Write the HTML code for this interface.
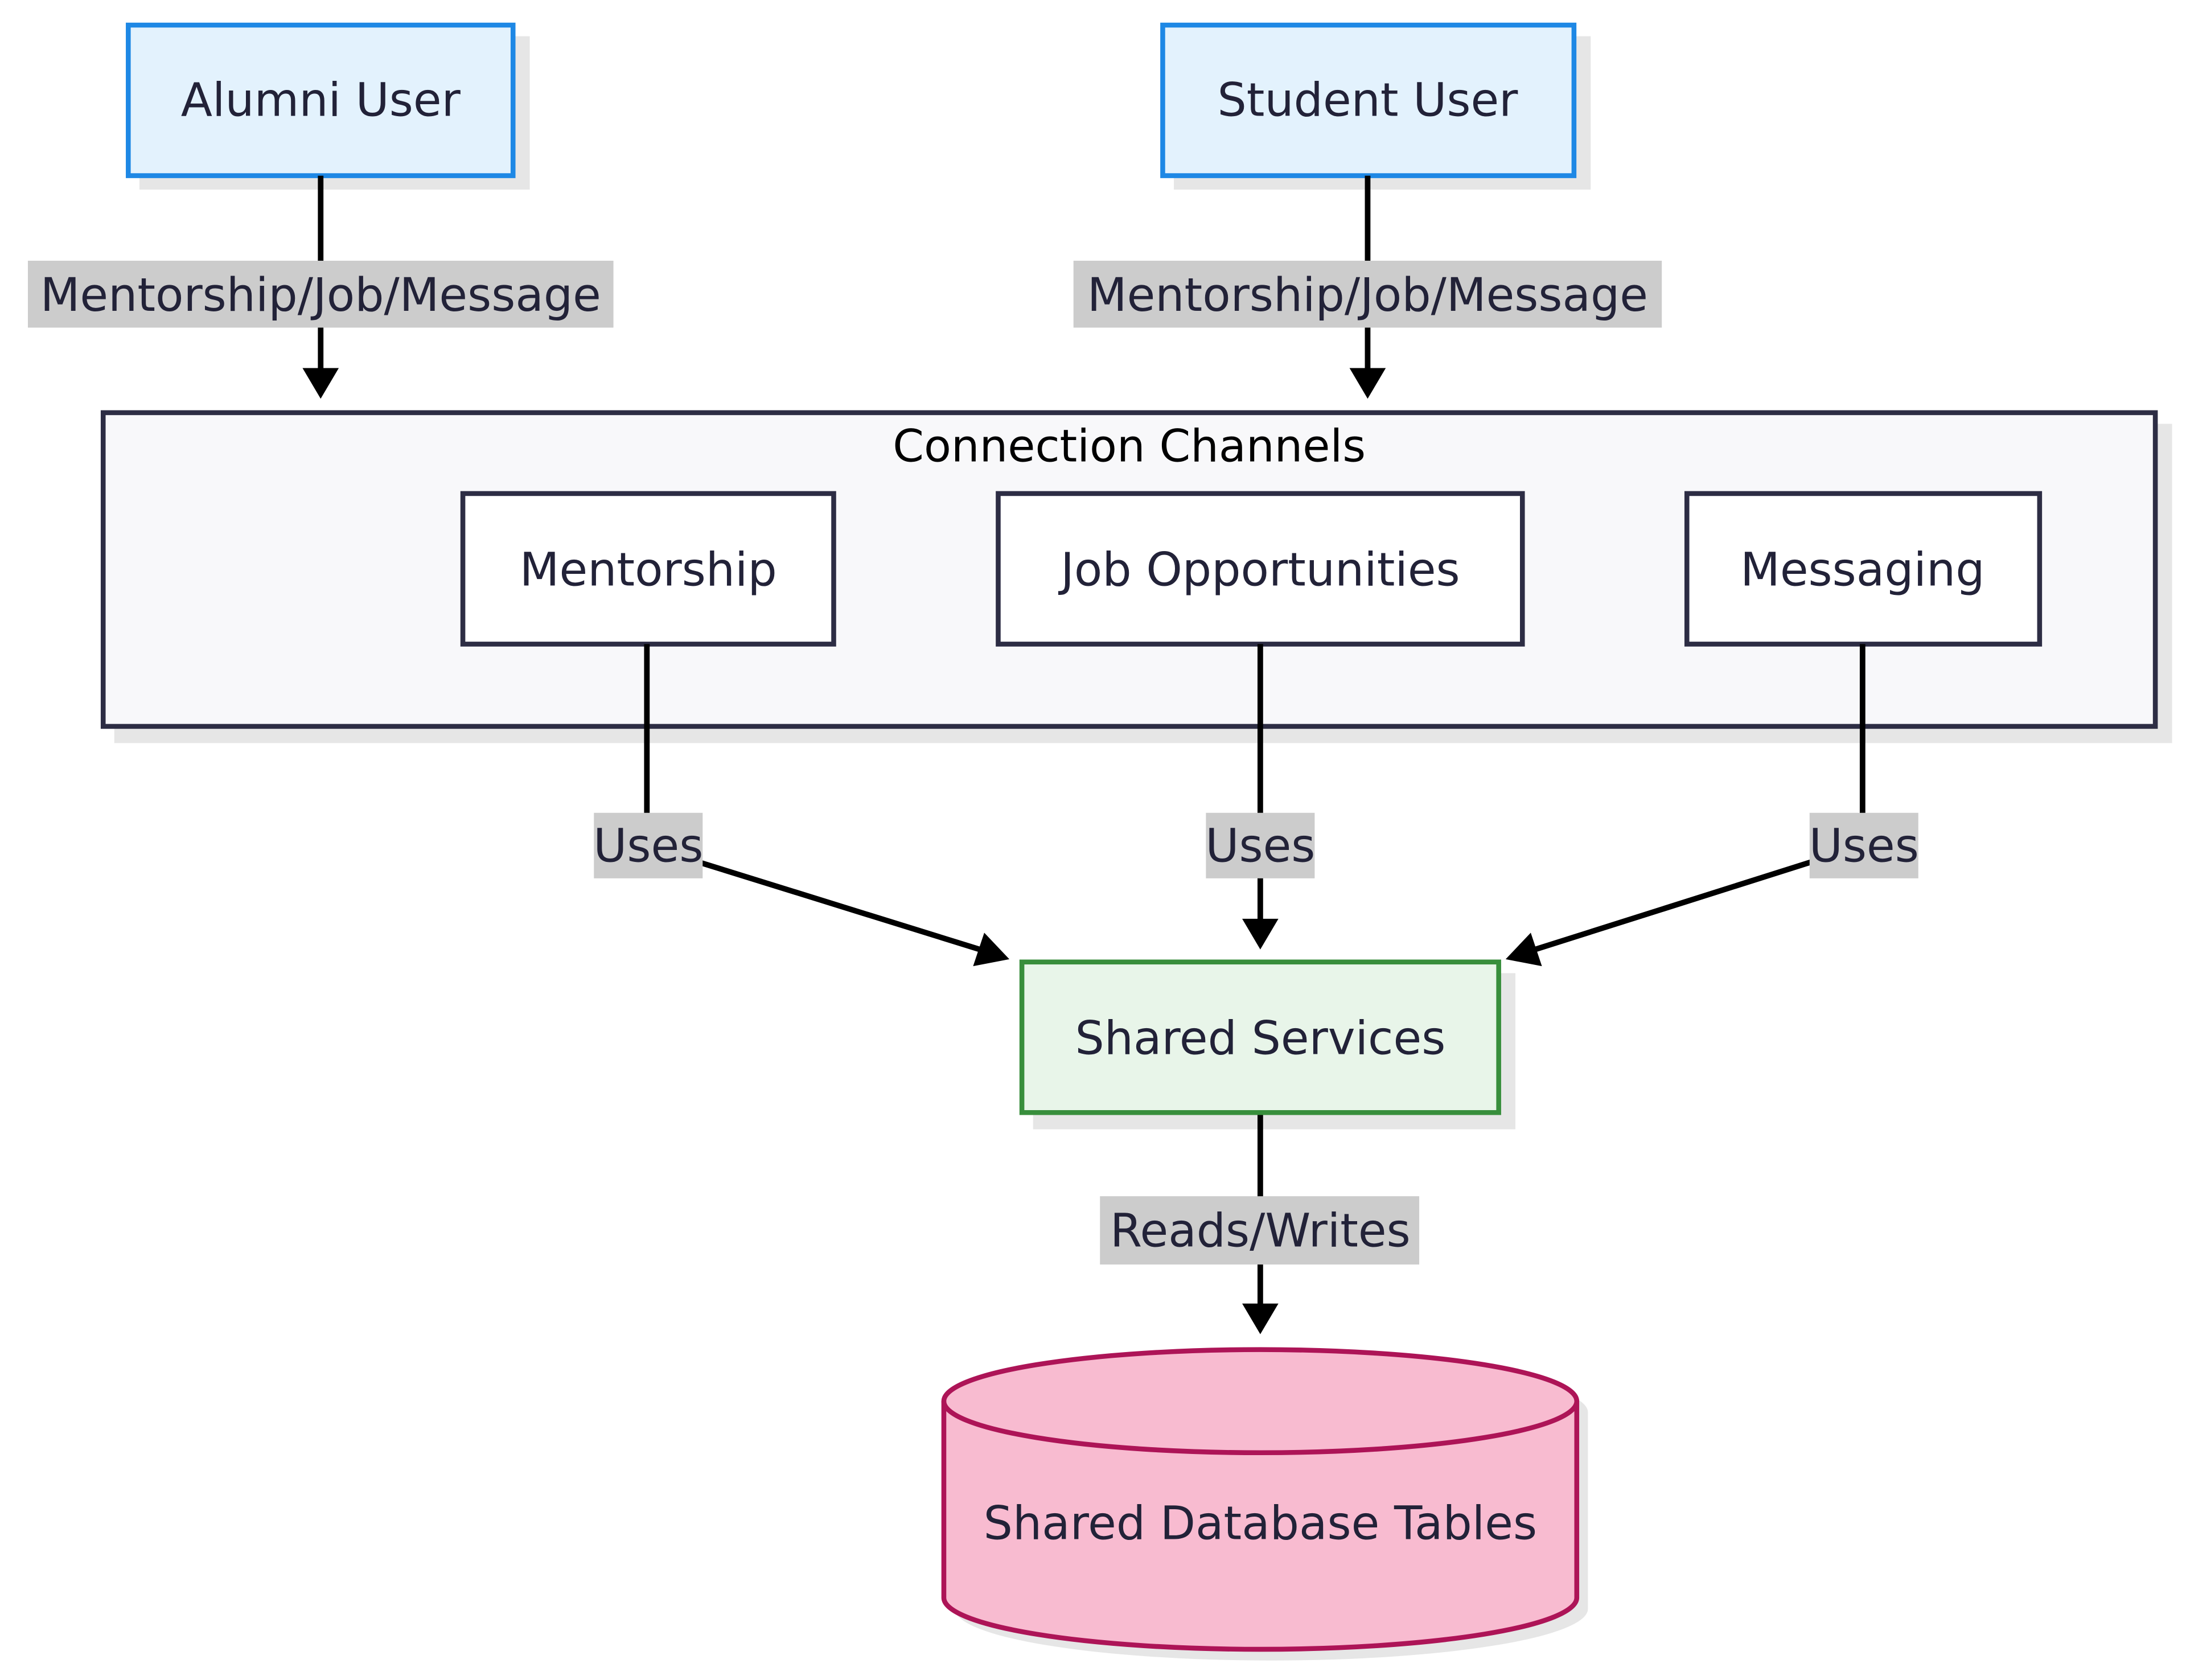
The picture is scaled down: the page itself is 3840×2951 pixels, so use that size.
<!DOCTYPE html>
<html><head><meta charset="utf-8"><style>
html,body{margin:0;padding:0;background:#fff;}
svg{display:block;}
text{font-family:"DejaVu Sans","Liberation Sans",sans-serif;fill:#222238;}
</style></head><body>
<svg width="3840" height="2951" viewBox="0 0 1568 1205" xmlns="http://www.w3.org/2000/svg">
<g fill="#e6e6e6">
<rect x="100" y="26" width="280" height="110"/>
<rect x="842" y="26" width="299" height="110"/>
<rect x="82" y="304" width="1476" height="229"/>
<rect x="340" y="362" width="270" height="112"/>
<rect x="724" y="362" width="380" height="112"/>
<rect x="1218" y="362" width="257" height="112"/>
<rect x="741" y="698" width="346" height="112"/>
<path d="M685 1013 v141 a227 37 0 0 0 454 0 v-141 a227 37 0 0 0 -454 0z"/>
</g>
<rect x="92" y="18" width="276" height="108" fill="#e3f2fd" stroke="#1e88e5" stroke-width="3.5"/>
<text x="230" y="83" font-size="33" text-anchor="middle">Alumni User</text>
<rect x="834" y="18" width="295" height="108" fill="#e3f2fd" stroke="#1e88e5" stroke-width="3.5"/>
<text x="981" y="83" font-size="33" text-anchor="middle">Student User</text>
<g stroke="#000" stroke-width="4" fill="none">
<line x1="230" y1="126" x2="230" y2="268"/>
<line x1="981" y1="126" x2="981" y2="268"/>
</g>
<g fill="#000">
<polygon points="217,264 243,264 230,286"/>
<polygon points="968,264 994,264 981,286"/>
</g>
<rect x="20" y="187" width="420" height="48" fill="#cccccc"/>
<text x="230" y="223" font-size="33" text-anchor="middle">Mentorship/Job/Message</text>
<rect x="770" y="187" width="422" height="48" fill="#cccccc"/>
<text x="981" y="223" font-size="33" text-anchor="middle">Mentorship/Job/Message</text>
<rect x="74" y="296" width="1472" height="225" fill="#f8f8fa" stroke="#2d2d44" stroke-width="3.5"/>
<text x="810" y="331" font-size="32" text-anchor="middle" style="fill:#000">Connection Channels</text>
<rect x="332" y="354" width="266" height="108" fill="#fff" stroke="#2d2d44" stroke-width="3.5"/>
<text x="465" y="420" font-size="33" text-anchor="middle">Mentorship</text>
<rect x="716" y="354" width="376" height="108" fill="#fff" stroke="#2d2d44" stroke-width="3.5"/>
<text x="904" y="420" font-size="33" text-anchor="middle">Job Opportunities</text>
<rect x="1210" y="354" width="253" height="108" fill="#fff" stroke="#2d2d44" stroke-width="3.5"/>
<text x="1336" y="420" font-size="33" text-anchor="middle">Messaging</text>
<g stroke="#000" stroke-width="4" fill="none">
<polyline points="464,462 464,600 500,618 706,682"/>
<line x1="904" y1="462" x2="904" y2="662"/>
<polyline points="1336,462 1336,600 1300,618 1098,682"/>
<line x1="904" y1="798" x2="904" y2="938"/>
</g>
<g fill="#000">
<polygon points="724,688 698,693 706,669"/>
<polygon points="891,659 917,659 904,681"/>
<polygon points="1080,688 1098,669 1106,693"/>
<polygon points="891,935 917,935 904,957"/>
</g>
<rect x="426" y="583" width="78" height="47" fill="#cccccc"/>
<text x="465" y="618" font-size="33" text-anchor="middle">Uses</text>
<rect x="865" y="583" width="78" height="47" fill="#cccccc"/>
<text x="904" y="618" font-size="33" text-anchor="middle">Uses</text>
<rect x="1298" y="583" width="78" height="47" fill="#cccccc"/>
<text x="1337" y="618" font-size="33" text-anchor="middle">Uses</text>
<rect x="733" y="690" width="342" height="108" fill="#e8f5e9" stroke="#388e3c" stroke-width="3.5"/>
<text x="904" y="756" font-size="33" text-anchor="middle">Shared Services</text>
<rect x="789" y="858" width="229" height="49" fill="#cccccc"/>
<text x="904" y="894" font-size="33" text-anchor="middle">Reads/Writes</text>
<path d="M677 1005 v141 a227 37 0 0 0 454 0 v-141 a227 37 0 0 0 -454 0z" fill="#f8bbd0" stroke="#ad1457" stroke-width="3.5"/>
<path d="M677 1005 a227 37 0 0 0 454 0" fill="none" stroke="#ad1457" stroke-width="3.5"/>
<text x="904" y="1104" font-size="33" text-anchor="middle">Shared Database Tables</text>
</svg>
</body></html>
